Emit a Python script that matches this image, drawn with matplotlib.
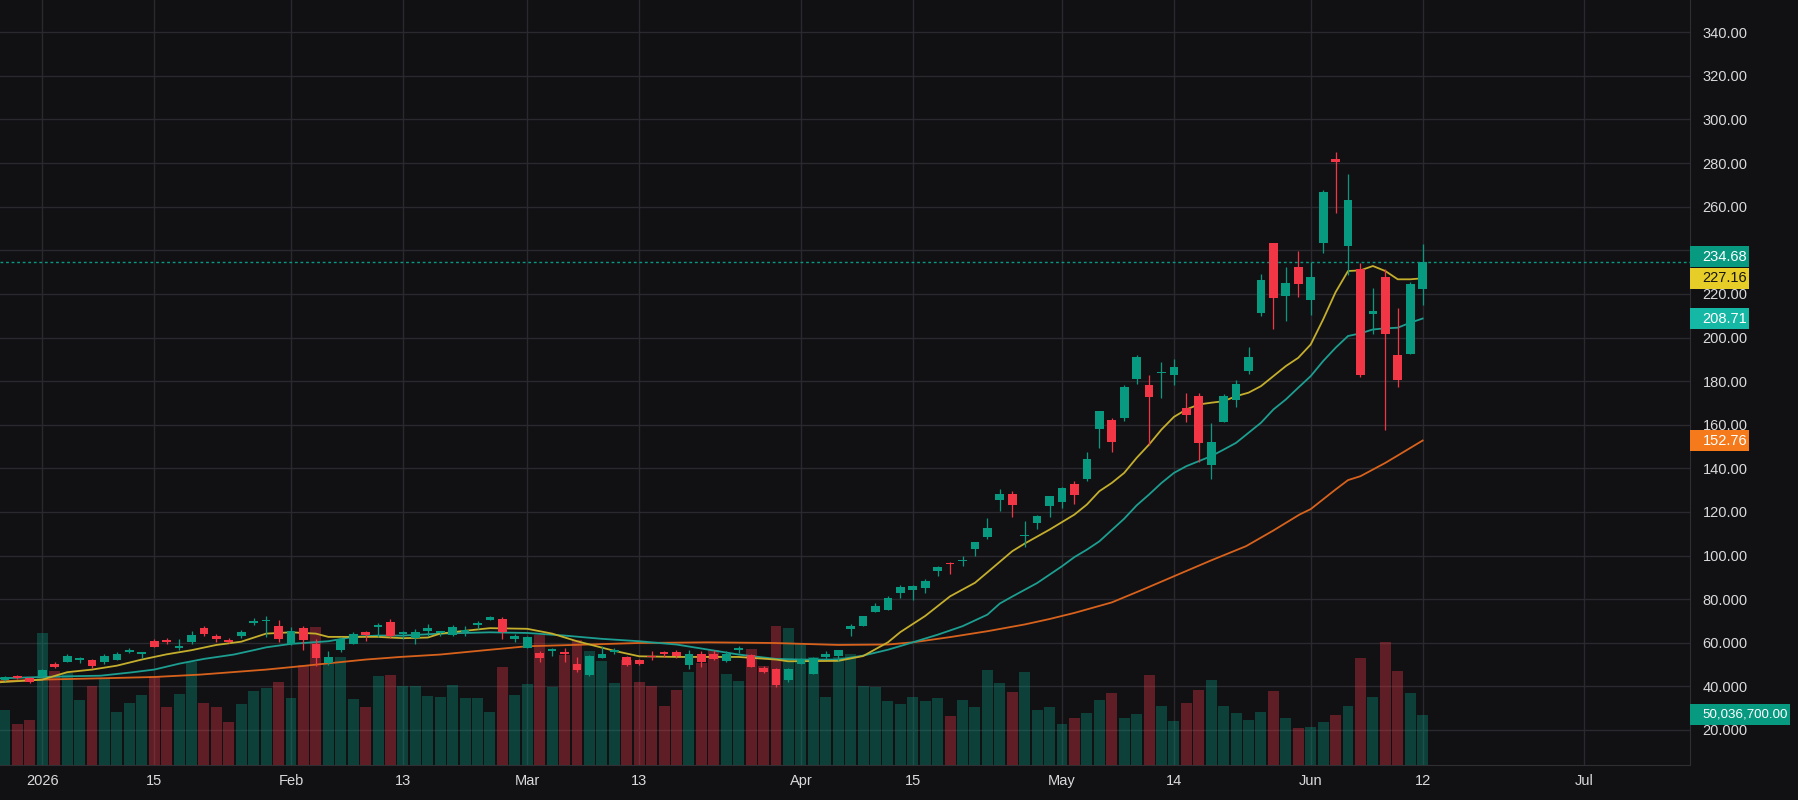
import matplotlib.pyplot as plt
import numpy as np
from matplotlib.patches import Rectangle

plt.rcParams['font.family'] = ['Liberation Sans', 'DejaVu Sans']

# daily bars, index 0 = first session of 2026 (2 Jan), -3..-1 are the last days of 2025
bar_idx = np.arange(-3, 112)

opens = [42.8, 44.6, 44.0, 44.9, 50.4, 51.1, 52.0, 52.3, 51.1, 52.3,
         55.7, 54.7, 60.8, 61.4, 57.8, 60.2, 67.0, 63.0, 61.2, 63.3,
         69.1, 70.0, 67.6, 59.3, 67.0, 59.6, 50.8, 56.6, 59.6, 65.1,
         67.3, 69.7, 63.9, 62.1, 65.4, 64.5, 63.6, 65.1, 68.2, 70.6,
         70.9, 61.5, 57.8, 55.3, 56.3, 55.6, 50.4, 45.2, 53.2, 55.6,
         53.5, 52.3, 54.1, 55.6, 55.6, 49.8, 55.0, 55.0, 51.7, 56.6,
         54.4, 48.3, 48.0, 42.8, 50.1, 45.9, 53.5, 54.1, 66.1, 67.9,
         74.3, 75.2, 83.0, 84.4, 85.0, 93.1, 96.5, 97.5, 102.9, 108.4,
         125.4, 128.4, 108.9, 114.8, 122.6, 124.5, 132.6, 134.9, 158.0, 162.4,
         163.0, 180.9, 178.0, 183.7, 182.8, 167.5, 173.4, 141.4, 161.2, 171.3,
         184.6, 211.2, 243.2, 219.0, 232.2, 217.2, 243.3, 281.7, 241.9, 231.3,
         210.8, 227.6, 191.8, 192.4, 222.1]
highs = [44.6, 45.0, 44.3, 47.9, 51.4, 54.7, 53.5, 52.6, 55.0, 55.6,
         57.8, 55.8, 61.5, 62.1, 61.5, 65.4, 67.6, 63.9, 62.4, 65.7,
         71.3, 72.5, 70.3, 67.3, 67.9, 61.5, 56.0, 62.7, 65.1, 65.4,
         69.1, 70.9, 65.4, 66.1, 68.8, 65.6, 68.2, 67.9, 70.0, 72.5,
         71.6, 64.2, 63.0, 56.0, 57.8, 57.8, 53.5, 54.4, 58.4, 57.8,
         53.8, 52.6, 56.3, 56.0, 56.9, 56.6, 56.0, 56.6, 56.0, 58.7,
         54.7, 49.5, 48.3, 48.6, 52.9, 53.5, 56.0, 56.9, 68.5, 72.5,
         78.3, 81.4, 86.5, 86.6, 89.4, 95.2, 97.2, 100.0, 106.4, 117.1,
         130.3, 129.7, 116.0, 118.6, 127.5, 131.3, 134.0, 147.7, 166.4, 163.3,
         178.0, 191.8, 182.6, 189.0, 190.0, 174.7, 174.7, 161.0, 173.9, 180.3,
         195.5, 229.0, 243.5, 232.2, 239.5, 234.5, 267.5, 285.0, 274.8, 234.0,
         222.5, 231.3, 213.4, 225.6, 242.7]
lows = [42.5, 43.4, 41.6, 44.6, 48.6, 51.0, 50.8, 48.3, 50.1, 52.0,
        55.3, 52.9, 58.0, 59.3, 56.9, 59.3, 63.0, 60.2, 59.9, 62.4,
        68.2, 62.7, 60.2, 59.0, 56.9, 49.2, 49.8, 55.6, 59.3, 60.8,
        62.7, 62.4, 61.8, 59.3, 63.3, 63.0, 63.3, 63.3, 66.1, 70.3,
        61.5, 60.5, 57.8, 51.4, 54.1, 51.1, 46.8, 44.6, 53.2, 55.0,
        49.2, 49.8, 52.3, 53.5, 52.9, 48.0, 48.9, 52.3, 51.4, 55.3,
        48.9, 46.2, 39.7, 42.2, 50.1, 45.6, 52.6, 51.7, 63.3, 67.9,
        74.0, 75.0, 80.7, 79.5, 82.9, 90.5, 91.7, 95.1, 99.7, 107.5,
        120.3, 117.6, 103.9, 112.1, 117.6, 121.7, 123.5, 134.0, 149.3, 147.4,
        161.5, 178.9, 150.8, 172.2, 178.2, 161.2, 142.8, 135.0, 161.2, 168.1,
        183.2, 209.8, 203.9, 207.5, 218.6, 210.3, 238.7, 257.1, 228.7, 181.8,
        201.6, 157.5, 177.3, 192.4, 214.9]
closes = [44.3, 43.7, 41.9, 47.7, 48.9, 54.1, 52.9, 49.5, 54.1, 55.0,
          56.6, 55.6, 58.1, 60.5, 58.4, 63.6, 63.9, 61.5, 60.5, 65.1,
          70.0, 70.6, 61.5, 65.4, 61.2, 53.2, 53.5, 61.8, 64.2, 63.6,
          68.2, 63.0, 64.8, 64.8, 66.7, 65.4, 67.3, 65.7, 69.1, 71.9,
          65.1, 63.0, 62.7, 53.2, 57.2, 54.7, 47.7, 53.8, 55.0, 56.6,
          49.8, 50.4, 53.5, 54.7, 53.8, 55.0, 51.1, 52.6, 55.0, 57.5,
          48.9, 46.5, 40.7, 48.0, 52.6, 53.2, 55.0, 56.9, 67.9, 72.5,
          76.8, 80.7, 85.8, 86.2, 88.4, 94.9, 96.0, 98.1, 106.0, 112.8,
          128.4, 123.4, 109.6, 118.3, 127.1, 130.8, 127.7, 144.4, 166.1, 152.0,
          177.1, 190.9, 172.7, 184.4, 186.7, 164.4, 151.6, 152.3, 173.4, 178.5,
          190.9, 226.2, 218.1, 224.8, 224.5, 227.6, 266.6, 280.5, 262.9, 182.8,
          212.0, 201.6, 180.5, 224.4, 234.68]
# volume in millions of shares
volumes_m = [55, 41, 45, 131, 94, 92, 65, 79, 86, 53,
             62, 70, 89, 58, 71, 102, 62, 58, 43, 61,
             74, 77, 83, 67, 99, 137, 100, 107, 66, 58,
             89, 90, 79, 79, 69, 68, 80, 67, 67, 53,
             97, 70, 81, 129, 78, 109, 124, 113, 103, 82,
             104, 83, 79, 59, 75, 93, 101, 114, 91, 84,
             115, 98, 138, 136, 120, 107, 68, 107, 110, 79,
             78, 64, 61, 68, 64, 67, 49, 65, 58, 95,
             82, 73, 93, 55, 58, 41, 47, 52, 65, 72,
             47, 51, 90, 59, 44, 62, 75, 85, 59, 52,
             45, 53, 74, 47, 37, 38, 43, 50, 59, 106,
             68, 122, 94, 72, 50.0367]

# moving averages (bar index, value)
ma10_x = [-3.4, 0, 2, 4, 6, 8, 10, 12, 14, 16, 18, 20, 22, 23, 25, 27, 29, 31, 32, 34,
          36, 39, 41, 43, 46, 48, 51, 56, 59, 60, 64, 66, 68, 69, 70, 71, 73, 75, 76, 78,
          79, 81, 83, 84, 85, 86, 87, 88, 89, 90, 91, 92, 93, 94, 95, 96, 97, 98, 99, 100,
          101, 102, 103, 104, 105, 106, 107, 108, 109, 110, 111]
ma10_y = [41.9, 43.1, 46.5, 47.7, 49.5, 52.3, 54.7, 56.6, 59.0, 60.5, 64.2, 64.8, 64.2, 62.7, 62.7, 62.7, 62.1, 62.4, 64.2, 65.5,
          66.7, 66.4, 64.2, 60.7, 56.3, 53.8, 53.5, 53.5, 52.3, 51.5, 51.7, 53.9, 60.2, 64.9, 68.6, 72.3, 81.3, 87.5, 92.3, 102.0,
          105.5, 111.9, 118.8, 123.4, 129.5, 133.3, 137.9, 144.8, 150.9, 157.8, 163.6, 167.0, 169.3, 170.1, 170.8, 173.1, 174.7, 177.7, 182.3, 186.9,
          190.7, 196.8, 208.3, 220.8, 230.5, 230.8, 232.8, 230.5, 226.7, 226.7, 227.16]
ma20_x = [-3.4, 0, 2, 4.7, 7.3, 9, 11, 13, 15.4, 17, 18, 20, 23, 25, 27, 29, 32, 36, 39, 42,
          45, 48, 51, 53.5, 56, 59, 61, 64, 66, 68, 70, 72, 74, 76, 77, 78, 80, 82, 83, 84, 85, 87,
          88, 89, 90, 91, 92, 93, 94, 95, 96, 97, 98, 99, 100, 101, 102, 103, 104, 105, 106, 107,
          108, 109, 110, 111]
ma20_y = [43.7, 44.3, 44.6, 44.9, 46.5, 47.7, 50.4, 52.6, 54.6, 56.6, 57.9, 59.5, 60.7, 62.7, 63.3, 63.3, 64.2, 64.8, 64.5, 63.3,
          61.8, 60.7, 59.2, 56.9, 54.6, 52.6, 52.3, 52.3, 54.1, 56.8, 60.2, 63.7, 67.6, 72.9, 78.0, 81.2, 87.4, 95.1, 99.3, 102.7, 106.5, 116.9,
          123.0, 128.0, 133.3, 137.9, 141.0, 143.3, 145.6, 148.6, 151.7, 156.3, 160.9, 167.0, 171.6, 177.0, 182.3, 189.2, 195.3, 200.7, 201.9, 203.7,
          204.2, 204.5, 206.8, 208.71]
ma50_x = [-3.4, 0, 4.7, 9, 12.7, 18, 20.7, 23.4, 26, 28.8, 32, 36, 39, 42.7, 48, 53.5, 58.8, 64, 68, 70,
          73, 76, 79, 81, 83, 86, 88.5, 91, 94, 96.8, 99, 101.1, 102, 104, 105, 106, 108, 109, 111]
ma50_y = [42.3, 43.1, 43.7, 44.3, 45.4, 47.7, 49.2, 50.8, 52.3, 53.5, 54.6, 56.8, 58.4, 59.0, 59.9, 60.2, 59.9, 59.0, 59.2, 60.2,
          62.6, 65.3, 68.4, 70.9, 73.7, 78.5, 84.4, 90.5, 97.8, 104.3, 111.5, 118.8, 121.3, 130.3, 134.6, 136.4, 142.5, 145.9, 152.76]

tick_pos = [0, 9, 20, 29, 39, 48, 61, 70, 82, 91, 102, 111, 124]
tick_labels = ['2026', '15', 'Feb', '13', 'Mar', '13', 'Apr', '15', 'May', '14', 'Jun', '12', 'Jul']
price_ticks = list(range(20, 341, 20))
price_labels = ['20.000', '40.000', '60.000', '80.000'] + ['%.2f' % p for p in range(100, 341, 20)]

BG = '#111114'
GRID = '#2a2a2e'
TEXT = '#dadadc'
UP = '#089981'
DOWN = '#f23645'

W, H = 1798, 800
fig = plt.figure(figsize=(W / 100, H / 100), dpi=100, facecolor=BG)
rect = [0, 35 / H, 1690 / W, 765 / H]
ax = fig.add_axes(rect)      # grid, price scale and date labels
ax_v = fig.add_axes(rect)    # volume pane
ax_c = fig.add_axes(rect)    # candles and averages

xlim = (-3.40, 132.5)
ylim = (3.94, 354.8)

ax.set_facecolor(BG)
ax.set_xlim(xlim)
ax.set_ylim(ylim)
ax.set_xticks(tick_pos, tick_labels)
ax.set_yticks(price_ticks, price_labels)
ax.yaxis.tick_right()
ax.tick_params(axis='both', length=0, colors=TEXT, labelsize=10.5)
ax.tick_params(axis='x', pad=6.5)
ax.tick_params(axis='y', pad=9)
ax.grid(True, color=GRID, lw=1)
for s in ['top', 'left']:
    ax.spines[s].set_visible(False)
for s in ['right', 'bottom']:
    ax.spines[s].set_color('#2e2e33')

o = np.array(opens)
c = np.array(closes)
up = c >= o
cols = np.where(up, UP, DOWN)

ax_v.set_xlim(xlim)
ax_v.set_ylim(0, 761e6)
ax_v.bar(bar_idx, np.array(volumes_m) * 1e6, width=0.88, color=cols, alpha=0.35, lw=0)
ax_v.axis('off')
ax_v.patch.set_visible(False)

ax_c.set_xlim(xlim)
ax_c.set_ylim(ylim)
ax_c.axis('off')
ax_c.patch.set_visible(False)
ax_c.plot(ma50_x, ma50_y, color='#d8621c', lw=1.3, zorder=2)
ax_c.plot(ma20_x, ma20_y, color='#1c9e90', lw=1.3, zorder=2)
ax_c.plot(ma10_x, ma10_y, color='#c4ae2c', lw=1.3, zorder=2)
ax_c.vlines(bar_idx, lows, highs, colors=cols, lw=0.9, zorder=3)
body_lo = np.minimum(o, c)
body_h = np.maximum(np.abs(c - o), 0.5)
ax_c.bar(bar_idx, body_h, bottom=body_lo, width=0.7, color=cols, lw=0, zorder=4)
ax_c.axhline(closes[-1], color=UP, lw=1, ls=(0, (2, 2)), zorder=1)


def price_tag(axis, value, text, face, fg, width=59, shift=0, size=10.5):
    y = axis.transData.transform((0, value))[1] + shift
    h = 21
    fig.patches.append(Rectangle((1690 / W, (y - h / 2) / H), width / W, h / H,
                                 transform=fig.transFigure, facecolor=face, lw=0, zorder=5))
    fig.text(1702.5 / W, y / H, text, color=fg, fontsize=size, va='center', ha='left', zorder=6)


price_tag(ax_c, ma50_y[-1], '152.76', '#f57a1b', 'white')
price_tag(ax_c, ma20_y[-1], '208.71', '#14b8a4', 'white')
price_tag(ax_c, ma10_y[-1], '227.16', '#e6cd28', '#151515')
price_tag(ax_c, closes[-1], '234.68', UP, 'white', shift=5)
price_tag(ax_v, volumes_m[-1] * 1e6, '50,036,700.00', UP, 'white', width=100, size=9.6)

plt.savefig('out.png', dpi=100, facecolor=BG)
